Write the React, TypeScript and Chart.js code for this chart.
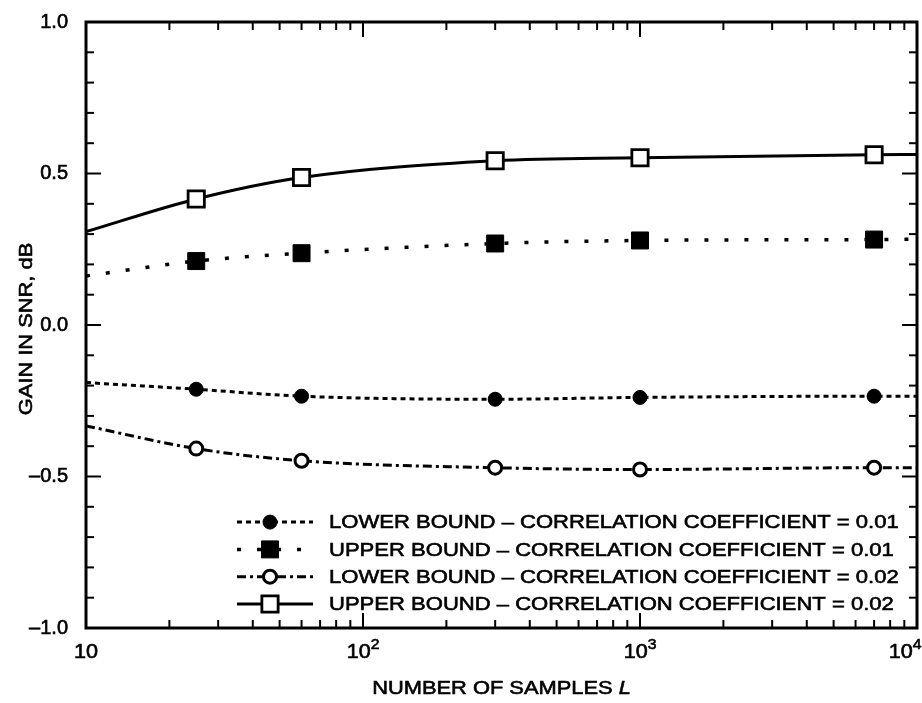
import React, { useEffect, useRef } from 'react';
import { Chart, registerables } from 'chart.js';

Chart.register(...registerables);

// ---- data ----
const samples = [10, 25, 60, 300, 1000, 7000, 10000];
const markerShown = [false, true, true, true, true, true, false];
const lowerBound001 = [-0.19, -0.212, -0.235, -0.245, -0.239, -0.235, -0.235];
const upperBound001 = [0.162, 0.211, 0.237, 0.269, 0.279, 0.282, 0.283];
const lowerBound002 = [-0.333, -0.408, -0.448, -0.471, -0.477, -0.471, -0.471];
const upperBound002 = [0.308, 0.416, 0.487, 0.542, 0.552, 0.562, 0.563];
const seriesLabels = [
  'LOWER BOUND – CORRELATION COEFFICIENT = 0.01',
  'UPPER BOUND – CORRELATION COEFFICIENT = 0.01',
  'LOWER BOUND – CORRELATION COEFFICIENT = 0.02',
  'UPPER BOUND – CORRELATION COEFFICIENT = 0.02',
];
const xDecades = [10, 100, 1000, 10000];
const xDecadeExponents = [1, 2, 3, 4];
const yMin = -1;
const yMax = 1;
const yStep = 0.5;
const yTitle = 'GAIN IN SNR, dB';
const xTitleMain = 'NUMBER OF SAMPLES ';
const xTitleVar = 'L';

const FONT = '"Liberation Sans", Arial, Helvetica, sans-serif';
const STROKE = 0.6;

function drawText(ctx: CanvasRenderingContext2D, text: string, x: number, y: number, sx: number, align: 'left' | 'center' | 'right') {
  const w = ctx.measureText(text).width * sx;
  let left = x;
  if (align === 'center') left = x - w / 2;
  if (align === 'right') left = x - w;
  ctx.save();
  ctx.translate(left, y);
  ctx.scale(sx, 1);
  ctx.textAlign = 'left';
  ctx.setLineDash([]);
  ctx.lineWidth = STROKE;
  ctx.strokeStyle = '#000';
  ctx.fillText(text, 0, 0);
  ctx.strokeText(text, 0, 0);
  ctx.restore();
  return w;
}

function drawMarker(ctx: CanvasRenderingContext2D, style: string, x: number, y: number, r: number, fill: string, bw: number) {
  ctx.save();
  ctx.beginPath();
  if (style === 'circle') {
    ctx.arc(x, y, r, 0, Math.PI * 2);
  } else {
    const s = Math.SQRT1_2 * r;
    ctx.rect(x - s, y - s, 2 * s, 2 * s);
  }
  ctx.setLineDash([]);
  ctx.fillStyle = fill;
  ctx.fill();
  ctx.lineWidth = bw;
  ctx.strokeStyle = '#000';
  ctx.stroke();
  ctx.restore();
}

const framePlugin = {
  id: 'framePlugin',
  afterDatasetsDraw(chart: any) {
    const { ctx, chartArea: a, scales } = chart;
    const xs = scales.x;
    const ys = scales.y;
    ctx.save();
    ctx.strokeStyle = '#000';
    ctx.fillStyle = '#000';
    ctx.setLineDash([]);
    ctx.lineCap = 'butt';
    const seg = (x1: number, y1: number, x2: number, y2: number) => {
      ctx.beginPath();
      ctx.moveTo(x1, y1);
      ctx.lineTo(x2, y2);
      ctx.stroke();
    };
    ctx.lineWidth = 2;
    // y ticks every 0.1, major every 0.5, inward on left and right
    for (let i = Math.round(yMin * 10); i <= Math.round(yMax * 10); i++) {
      const py = ys.getPixelForValue(i / 10);
      const len = i % 5 === 0 ? 15 : 8;
      seg(a.left, py, a.left + len, py);
      seg(a.right, py, a.right - len, py);
    }
    // x ticks (log), inward on bottom and top
    for (let d = 0; d < xDecades.length; d++) {
      for (let m = 1; m <= 9; m++) {
        const v = xDecades[d] * m;
        if (v > xDecades[xDecades.length - 1]) break;
        const px = xs.getPixelForValue(v);
        const len = m === 1 ? 15 : 8;
        seg(px, a.bottom, px, a.bottom - len);
        seg(px, a.top, px, a.top + len);
      }
    }
    // frame
    ctx.lineWidth = 3;
    ctx.strokeRect(a.left, a.top, a.right - a.left, a.bottom - a.top);

    // x tick labels with superscript exponents
    ctx.textBaseline = 'alphabetic';
    const baseY = a.bottom + 30;
    for (let i = 0; i < xDecades.length; i++) {
      const px = xs.getPixelForValue(xDecades[i]);
      ctx.font = `20px ${FONT}`;
      const wBase = ctx.measureText('10').width * 1.08;
      const exp = xDecadeExponents[i] === 1 ? '' : String(xDecadeExponents[i]);
      ctx.font = `15px ${FONT}`;
      const wExp = exp ? ctx.measureText(exp).width : 0;
      const total = wBase + wExp;
      let left = px - total / 2;
      if (left + total > a.right + 4) left = a.right + 4 - total;
      ctx.font = `20px ${FONT}`;
      drawText(ctx, '10', left, baseY, 1.08, 'left');
      if (exp) {
        ctx.font = `15px ${FONT}`;
        drawText(ctx, exp, left + wBase, baseY - 9, 1.05, 'left');
      }
    }

    // x axis title
    ctx.font = `19px ${FONT}`;
    const sx = 1.15;
    const w1 = ctx.measureText(xTitleMain).width * sx;
    ctx.font = `italic 19px ${FONT}`;
    const w2 = ctx.measureText(xTitleVar).width * sx;
    const cx = (a.left + a.right) / 2;
    const tY = a.bottom + 66;
    const startX = cx - (w1 + w2) / 2;
    ctx.font = `19px ${FONT}`;
    drawText(ctx, xTitleMain, startX, tY, sx, 'left');
    ctx.font = `italic 19px ${FONT}`;
    drawText(ctx, xTitleVar, startX + w1, tY, sx, 'left');

    // y axis title (rotated)
    ctx.save();
    ctx.translate(32, (a.top + a.bottom) / 2 + 4);
    ctx.rotate(-Math.PI / 2);
    ctx.font = `19px ${FONT}`;
    ctx.textBaseline = 'alphabetic';
    drawText(ctx, yTitle, 0, 0, sx, 'center');
    ctx.restore();

    // legend
    const ds = chart.data.datasets;
    const rowGap = 27.3;
    ctx.font = `19px ${FONT}`;
    ctx.textBaseline = 'middle';
    for (let i = 0; i < ds.length; i++) {
      const d = ds[i];
      const ry = a.bottom - 24 - (ds.length - 1 - i) * rowGap;
      const lx1 = a.left + 151;
      const lx2 = a.left + 227;
      ctx.save();
      ctx.lineWidth = d.borderWidth;
      ctx.setLineDash(d.borderDash || []);
      ctx.beginPath();
      ctx.moveTo(lx1, ry);
      ctx.lineTo(lx2, ry);
      ctx.stroke();
      ctx.restore();
      drawMarker(ctx, d.pointStyle, a.left + 184, ry, d.legendRadius, d.pointBackgroundColor, d.pointBorderWidth);
      ctx.fillStyle = '#000';
      ctx.font = `19px ${FONT}`;
      drawText(ctx, d.label, a.left + 243, ry + 1, 1.16, 'left');
    }
    ctx.restore();
  },
};

function series(values: number[]) {
  return samples.map((s, i) => ({ x: s, y: values[i] }));
}

export default function App() {
  const ref = useRef<HTMLCanvasElement | null>(null);
  useEffect(() => {
    if (!ref.current) return;
    const radii = (r: number) => markerShown.map((m) => (m ? r : 0));
    const chart = new Chart(ref.current, {
      type: 'line',
      data: {
        datasets: [
          {
            label: seriesLabels[0],
            data: series(lowerBound001),
            borderColor: '#000',
            borderWidth: 3,
            borderDash: [5, 4],
            pointStyle: 'circle',
            pointRadius: radii(7),
            pointBackgroundColor: '#000',
            pointBorderColor: '#000',
            pointBorderWidth: 1,
            cubicInterpolationMode: 'monotone',
            legendRadius: 7,
          } as any,
          {
            label: seriesLabels[1],
            data: series(upperBound001),
            borderColor: '#000',
            borderWidth: 3.5,
            borderDash: [4, 16],
            pointStyle: 'rect',
            pointRadius: radii(12),
            pointBackgroundColor: '#000',
            pointBorderColor: '#000',
            pointBorderWidth: 1,
            cubicInterpolationMode: 'monotone',
            legendRadius: 12,
          } as any,
          {
            label: seriesLabels[2],
            data: series(lowerBound002),
            borderColor: '#000',
            borderWidth: 3,
            borderDash: [9, 4, 3, 4],
            pointStyle: 'circle',
            pointRadius: radii(6.5),
            pointBackgroundColor: '#fff',
            pointBorderColor: '#000',
            pointBorderWidth: 3,
            cubicInterpolationMode: 'monotone',
            legendRadius: 6.5,
          } as any,
          {
            label: seriesLabels[3],
            data: series(upperBound002),
            borderColor: '#000',
            borderWidth: 3,
            borderDash: [],
            pointStyle: 'rect',
            pointRadius: radii(11.5),
            pointBackgroundColor: '#fff',
            pointBorderColor: '#000',
            pointBorderWidth: 2.8,
            cubicInterpolationMode: 'monotone',
            legendRadius: 11.5,
          } as any,
        ],
      },
      options: {
        animation: false,
        responsive: false,
        devicePixelRatio: 1,
        layout: { padding: { top: 15, right: 5, left: 0, bottom: 0 } },
        plugins: { legend: { display: false }, tooltip: { enabled: false } },
        scales: {
          x: {
            type: 'logarithmic',
            min: xDecades[0],
            max: xDecades[xDecades.length - 1],
            grid: { display: false },
            border: { display: false },
            ticks: { display: false },
            afterFit: (s: any) => {
              s.height = 75;
            },
          },
          y: {
            type: 'linear',
            min: yMin,
            max: yMax,
            grid: { display: false },
            border: { display: false },
            ticks: {
              stepSize: yStep,
              padding: 10,
              color: '#000',
              textStrokeColor: '#000',
              textStrokeWidth: STROKE,
              font: { family: FONT, size: 20 },
              callback: (v: any) => (Number(v) < 0 ? '–' : '') + Math.abs(Number(v)).toFixed(1),
            },
            afterFit: (s: any) => {
              s.width = 86;
            },
          },
        },
      } as any,
      plugins: [framePlugin],
    });
    return () => chart.destroy();
  }, []);
  return (
    <div style={{ position: 'fixed', left: 0, top: 0, width: 922, height: 703, background: '#fff' }}>
      <canvas ref={ref} width={922} height={703} style={{ display: 'block' }} />
    </div>
  );
}
